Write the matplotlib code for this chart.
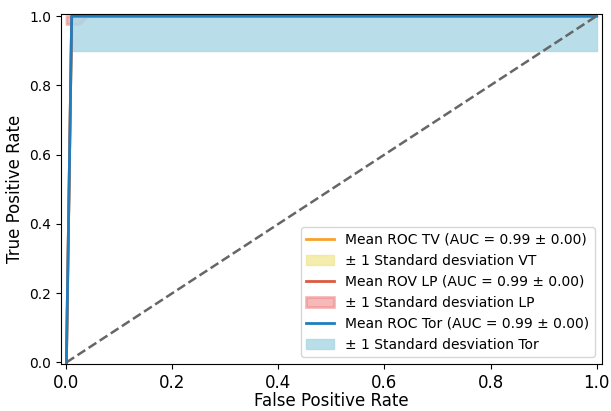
import numpy as np
import matplotlib
matplotlib.use('Agg')
import matplotlib.pyplot as plt

# Mean ROC curves (fpr, tpr)
fpr_tv = [0.0, 0.01, 1.0]
tpr_tv = [0.0, 1.0, 1.0]
std_tv_lower = [0.0, 1.0, 1.0]
std_tv_upper = [0.0, 1.0, 1.0]

fpr_lp = [0.0, 0.01, 1.0]
tpr_lp = [0.0, 1.0, 1.0]
fpr_lp_band = [0.0, 0.025, 0.04, 1.0]
std_lp_lower = [0.977, 0.977, 1.0, 1.0]
std_lp_upper = [1.0, 1.0, 1.0, 1.0]

fpr_tor = [0.0, 0.01, 1.0]
tpr_tor = [0.0, 1.0, 1.0]
fpr_tor_band = [0.01, 1.0]
std_tor_lower = [0.9, 0.9]
std_tor_upper = [1.0, 1.0]

auc_tv, auc_tv_std = 0.99, 0.00
auc_lp, auc_lp_std = 0.99, 0.00
auc_tor, auc_tor_std = 0.99, 0.00

fig, ax = plt.subplots(figsize=(6.11, 4.11), dpi=100)

ax.plot(fpr_tv, tpr_tv, color='#f9a12a', lw=2,
        label=f'Mean ROC TV (AUC = {auc_tv:.2f} ± {auc_tv_std:.2f})')
ax.fill_between(fpr_tv, std_tv_lower, std_tv_upper, color='khaki', alpha=0.7,
                label='± 1 Standard desviation VT')

ax.plot(fpr_lp, tpr_lp, color='#dc5a40', lw=2,
        label=f'Mean ROV LP (AUC = {auc_lp:.2f} ± {auc_lp_std:.2f})')
ax.fill_between(fpr_lp_band, std_lp_lower, std_lp_upper, color='lightcoral', alpha=0.55,
                lw=2, label='± 1 Standard desviation LP')

ax.plot(fpr_tor, tpr_tor, color='#1f7ec0', lw=2,
        label=f'Mean ROC Tor (AUC = {auc_tor:.2f} ± {auc_tor_std:.2f})')
ax.fill_between(fpr_tor_band, std_tor_lower, std_tor_upper, color='lightblue', alpha=0.85,
                label='± 1 Standard desviation Tor')

ax.plot([0, 1], [0, 1], linestyle='--', lw=1.8, color='#666666')

ax.set_xlim([-0.01, 1.01])
ax.set_ylim([-0.005, 1.006])
ax.set_xlabel('False Positive Rate', fontsize=12, labelpad=0)
ax.set_ylabel('True Positive Rate', fontsize=12)
ax.tick_params(axis='x', labelsize=12)
ax.tick_params(axis='y', labelsize=10)
ax.legend(loc='lower right', fontsize=10)

plt.subplots_adjust(left=0.1, right=0.985, top=0.966, bottom=0.114)
plt.savefig('out.png', dpi=100)
